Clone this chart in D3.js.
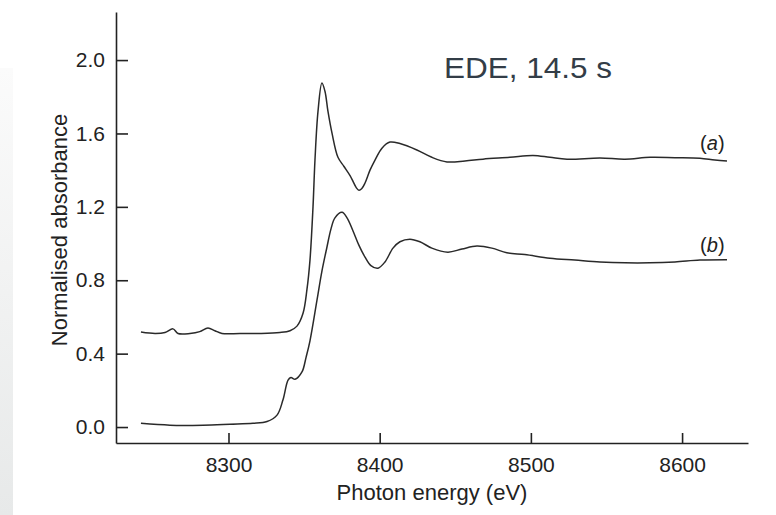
<!DOCTYPE html>
<html>
<head>
<meta charset="utf-8">
<script src="https://cdn.jsdelivr.net/npm/d3@7"></script>
<style>
  html, body { margin: 0; padding: 0; background: #ffffff; }
  svg { display: block; }
</style>
</head>
<body>
<svg id="chart" width="776" height="515"></svg>
<script>
// ---- data ----
const yTicks = [0.0, 0.4, 0.8, 1.2, 1.6, 2.0];
const xTicks = [8300, 8400, 8500, 8600];
const seriesLabels = ["(a)", "(b)"];
const annotation = "EDE, 14.5 s";
const xTitle = "Photon energy (eV)";
const yTitle = "Normalised absorbance";

const energyA = [8242.1, 8251.4, 8258, 8263.3, 8266.6, 8274.5, 8281, 8286.4, 8291, 8295.7,
  8307.6, 8320.8, 8334, 8340.7, 8345.3, 8349.3, 8351.9, 8353.9, 8355.9, 8357.2,
  8359.2, 8361.8, 8363.8, 8365.8, 8368.5, 8372.4, 8376.4, 8380.4, 8382.3, 8384.5,
  8386.3, 8388.2, 8390.3, 8393.6, 8396.9, 8401.5, 8406.8, 8413.4, 8424.6, 8434.5,
  8444.5, 8456.4, 8468.3, 8486.1, 8501.4, 8512.6, 8523.9, 8545.7, 8562.2, 8578.8,
  8595.3, 8611.8, 8621.7, 8629.7];
const absorbA = [0.518, 0.51, 0.515, 0.535, 0.51, 0.51, 0.52, 0.54, 0.525, 0.51,
  0.51, 0.51, 0.515, 0.525, 0.55, 0.62, 0.75, 0.91, 1.2, 1.455,
  1.72, 1.875, 1.83, 1.72, 1.60, 1.47, 1.42, 1.37, 1.34, 1.305,
  1.29, 1.30, 1.33, 1.40, 1.455, 1.52, 1.553, 1.545, 1.51, 1.47,
  1.445, 1.45, 1.46, 1.47, 1.48, 1.47, 1.46, 1.466, 1.46, 1.47,
  1.468, 1.465, 1.455, 1.45];

const energyB = [8242.1, 8261.3, 8283.1, 8301, 8316.2, 8325.5, 8332.1, 8336, 8339.4, 8341.3,
  8344, 8348.6, 8351.3, 8353.9, 8358.5, 8361.8, 8365.1, 8367.8, 8370.4, 8375.1,
  8378.4, 8382.3, 8386.3, 8390.3, 8394.2, 8398.9, 8403.5, 8408.8, 8413.4, 8420,
  8426.6, 8434.5, 8445.1, 8454.4, 8464.3, 8474.2, 8484.1, 8496, 8512.6, 8529.1,
  8545.7, 8562.2, 8578.8, 8595.3, 8611.8, 8629.7];
const absorbB = [0.02, 0.01, 0.01, 0.015, 0.02, 0.03, 0.065, 0.147, 0.256, 0.27,
  0.26, 0.30, 0.38, 0.47, 0.69, 0.85, 0.98, 1.08, 1.14, 1.17,
  1.14, 1.07, 0.99, 0.926, 0.88, 0.866, 0.90, 0.975, 1.01, 1.024,
  1.01, 0.975, 0.953, 0.97, 0.986, 0.975, 0.95, 0.94, 0.92, 0.91,
  0.90, 0.895, 0.895, 0.90, 0.91, 0.912];

// ---- drawing ----
const svg = d3.select("#chart");
const font = "'Liberation Sans', Arial, Helvetica, sans-serif";

// light grey strip on the left edge
const defs = svg.append("defs");
const grad = defs.append("linearGradient").attr("id", "strip")
  .attr("x1", 0).attr("y1", 0).attr("x2", 0).attr("y2", 1);
grad.append("stop").attr("offset", "0%").attr("stop-color", "#fbfbfb");
grad.append("stop").attr("offset", "100%").attr("stop-color", "#e7e9e9");
svg.append("rect").attr("x", 0).attr("y", 68).attr("width", 13).attr("height", 447)
  .attr("fill", "url(#strip)");

const x = d3.scaleLinear().domain([8225.6, 8643.6]).range([116, 748]);
const y = d3.scaleLinear().domain([-0.087, 2.262]).range([443, 12]);

const yAxis = d3.axisLeft(y).tickValues(yTicks).tickFormat(d3.format(".1f"))
  .tickSizeInner(-12).tickSizeOuter(0).tickPadding(11);
const xAxis = d3.axisBottom(x).tickValues(xTicks).tickFormat(d3.format("d"))
  .tickSizeInner(-10).tickSizeOuter(0).tickPadding(14);

const gy = svg.append("g").attr("transform", "translate(116,0)").call(yAxis);
const gx = svg.append("g").attr("transform", "translate(0,443)").call(xAxis);

[gx, gy].forEach(g => {
  g.select(".domain").attr("stroke", "#222").attr("stroke-width", 1.6);
  g.selectAll(".tick line").attr("stroke", "#222").attr("stroke-width", 1.6);
  g.selectAll(".tick text").attr("fill", "#222")
    .style("font-family", font).style("font-size", "21px");
});

// axis titles
svg.append("text").attr("x", 432).attr("y", 500)
  .attr("text-anchor", "middle").attr("fill", "#222")
  .style("font-family", font).style("font-size", "22px")
  .text(xTitle);
svg.append("text").attr("transform", "translate(67,230) rotate(-90)")
  .attr("text-anchor", "middle").attr("fill", "#222")
  .style("font-family", font).style("font-size", "22px")
  .text(yTitle);

// curves
const line = d3.line().x(d => x(d[0])).y(d => y(d[1])).curve(d3.curveCatmullRom.alpha(0.5));
const dataA = energyA.map((e, i) => [e, absorbA[i]]);
const dataB = energyB.map((e, i) => [e, absorbB[i]]);
[dataA, dataB].forEach(d => {
  svg.append("path").datum(d).attr("d", line)
    .attr("fill", "none").attr("stroke", "#2a2a2a").attr("stroke-width", 1.5);
});

// series labels
const labelPos = [[8620, 1.55], [8620, 0.99]];
seriesLabels.forEach((t, i) => {
  const txt = svg.append("text")
    .attr("x", x(labelPos[i][0])).attr("y", y(labelPos[i][1]))
    .attr("text-anchor", "middle").attr("dy", "0.35em")
    .attr("fill", "#222").style("font-family", font).style("font-size", "20px");
  txt.append("tspan").text("(");
  txt.append("tspan").style("font-style", "italic").text(t.slice(1, -1));
  txt.append("tspan").text(")");
});

// annotation
svg.append("text").attr("x", 444).attr("y", 78)
  .attr("fill", "#333d47")
  .attr("textLength", 168).attr("lengthAdjust", "spacingAndGlyphs")
  .style("font-family", font).style("font-size", "29px")
  .text(annotation);
</script>
</body>
</html>
